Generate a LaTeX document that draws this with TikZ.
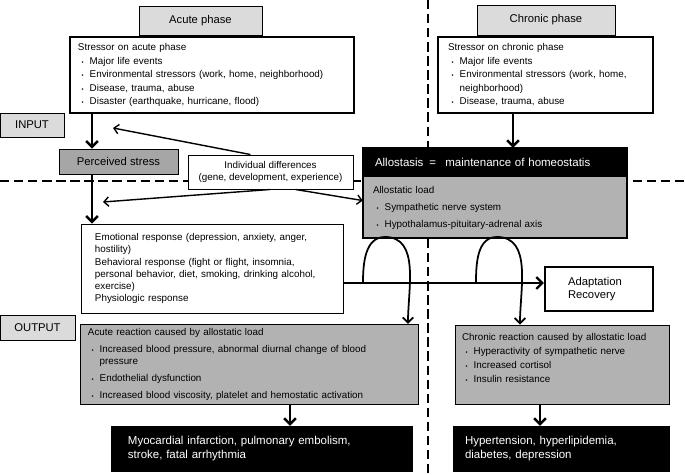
\documentclass[tikz,border=0pt]{standalone}
\usepackage{fontspec}
\setmainfont{Liberation Sans}
\usetikzlibrary{arrows.meta}

\definecolor{lgray}{gray}{0.86}
\definecolor{mgray}{gray}{0.70}
\definecolor{dgray}{gray}{0.65}

\newlength{\itmgap}
\newcommand{\itm}[1]{\par\vspace{\itmgap}\noindent\hangindent=10pt\hangafter=1\hspace*{3pt}\makebox[7pt][l]{\tiny\textbullet}#1}
\newcommand{\bodyfont}{\fontsize{8.4}{11.5}\selectfont}
\newcommand{\headfont}{\fontsize{9.6}{11.5}\selectfont}

\tikzset{
  tagbox/.style={draw, line width=0.8pt, fill=lgray, font=\headfont, inner sep=0pt},
  stressbox/.style={draw, line width=2pt, fill=white, font=\bodyfont, align=left},
  textbox/.style={draw, line width=0.8pt, fill=white, font=\bodyfont},
  reactbox/.style={draw, line width=0.8pt, fill=mgray, font=\bodyfont, align=left},
  blackbox/.style={fill=black, text=white, font=\headfont, align=left},
  bigarrow/.style={line width=2pt, -{Straight Barb[length=5pt,width=10pt]}},
  thinarrow/.style={line width=1.2pt, -{Straight Barb[length=4pt,width=8pt]}},
  archarrow/.style={line width=1.5pt, -{Straight Barb[length=4.5pt,width=9pt]}},
  divline/.style={line width=2.4pt, dash pattern=on 8pt off 4pt}
}

\begin{document}
\begin{tikzpicture}[x=0.3mm, y=-0.3mm]
    \useasboundingbox (0,0) rectangle (685,475);

    % dividing lines
    \draw [divline] (0,181) -- (685,181);
    \draw [divline] (428,0) -- (428,475);

    % input side
    \node [tagbox, minimum width=36.9mm, minimum height=8.7mm] (acute) at (200.5,20.5) {Acute phase};
    \node [tagbox, minimum width=41.4mm, minimum height=9mm] (chronic) at (546,20) {Chronic phase};
    \node [stressbox, text width=80.4mm, inner xsep=2.4mm, minimum height=22.8mm] (astress) at (212,75)
        {\noindent Stressor on acute phase
         \itm{Major life events}
         \itm{Environmental stressors (work, home, neighborhood)}
         \itm{Disease, trauma, abuse}
         \itm{Disaster (earthquake, hurricane, flood)}};
    \node [stressbox, text width=58.5mm, inner xsep=3mm, minimum height=22.8mm] (cstress) at (545.5,75)
        {\noindent Stressor on chronic phase
         \itm{Major life events}
         \itm{Environmental stressors (work, home,\newline neighborhood)}
         \itm{Disease, trauma, abuse}};
    \node [tagbox, minimum width=19.2mm, minimum height=7.2mm] (input) at (32,125) {INPUT};
    \node [tagbox, fill=dgray, minimum width=35.7mm, minimum height=7.5mm] (perc) at (118.5,161.5) {Perceived stress};
    \node [textbox, align=center, minimum width=49.5mm, minimum height=10.2mm, inner sep=0pt,
        font={\fontsize{8.4}{10.2}\selectfont}] (indiv) at (270.5,172)
        {Individual differences\\(gene, development, experience)};

    % allostasis
    \node [blackbox, text width=72mm, inner xsep=3.6mm, minimum height=8.7mm, font={\fontsize{9.8}{11.5}\selectfont}] (allo) at (495,162.5)
        {Allostasis\hspace{5pt}=\hspace{8pt}maintenance of homeostatis};
    \node [fill=mgray, font=\bodyfont, align=left, text width=73.2mm, inner xsep=3mm, minimum height=18.3mm] (load) at (495,207.5)
        {\setlength{\itmgap}{3pt}\noindent Allostatic load
         \itm{Sympathetic nerve system}
         \itm{Hypothalamus-pituitary-adrenal axis}};
    \draw [line width=2pt] (allo.north west) rectangle (load.south east);

    % responses
    \node [textbox, align=left, text width=70.2mm, inner xsep=4.2mm, minimum height=26.7mm,
        font={\fontsize{8.4}{10.3}\selectfont}] (emo) at (212,268.5)
        {Emotional response (depression, anxiety, anger,\\hostility)\\Behavioral response (fight or flight, insomnia,\\personal behavior, diet, smoking, drinking alcohol,\\exercise)\\Physiologic response};
    \node [draw, line width=2pt, align=left, text width=18.6mm, inner xsep=6.9mm, minimum height=13.2mm,
        font={\fontsize{9.6}{10.8}\selectfont}] (adapt) at (599,289) {Adaptation\\Recovery};

    % output side
    \node [tagbox, minimum width=22.5mm, minimum height=7.5mm] (output) at (37.5,327.5) {OUTPUT};
    \node [reactbox, text width=96.6mm, inner xsep=2.4mm, minimum height=23.1mm,
        font={\fontsize{8.4}{10.5}\selectfont}] (acreact) at (249,364.5)
        {\setlength{\itmgap}{4pt}\noindent Acute reaction caused by allostatic load
         \itm{Increased blood pressure, abnormal diurnal change of blood\newline pressure}
         \itm{Endothelial dysfunction}
         \itm{Increased blood viscosity, platelet and hemostatic activation}};
    \node [reactbox, text width=60mm, inner xsep=2.1mm, minimum height=23.7mm,
        font={\fontsize{8.4}{12}\selectfont}] (chreact) at (562,364.5)
        {\noindent Chronic reaction caused by allostatic load
         \itm{Hyperactivity of sympathetic nerve}
         \itm{Increased cortisol}
         \itm{Insulin resistance\rule[-11pt]{0pt}{11pt}}};
    \node [blackbox, text width=80.4mm, inner xsep=5.1mm, minimum height=13.8mm,
        font={\fontsize{9.8}{12}\selectfont}] (myo) at (262,449)
        {Myocardial infarction, pulmonary embolism,\\stroke, fatal arrhythmia};
    \node [blackbox, text width=57.9mm, inner xsep=3.6mm, minimum height=13.8mm,
        font={\fontsize{9.8}{12}\selectfont}] (hyper) at (561.5,449)
        {Hypertension, hyperlipidemia,\\diabetes, depression};

    % connectors
    \coordinate (xin) at (92,0);
    \coordinate (ihit) at (113,128);
    \coordinate (ehit) at (103,202);
    \coordinate (xch) at (513,0);
    \coordinate (ymid) at (0,283);
    \coordinate (archA) at (363,283);
    \coordinate (archB) at (476,283);
    \coordinate (xa) at (408,0);
    \coordinate (xb) at (520,0);
    \coordinate (xam) at (290,0);
    \coordinate (xhy) at (540,0);
    \draw [bigarrow] (xin |- astress.south) -- (xin |- perc.north);
    \draw [bigarrow] (xin |- perc.south) -- (xin |- emo.north);
    \draw [thinarrow] (indiv.139) -- (ihit);
    \draw [thinarrow] (indiv.south) -- (ehit);
    \draw [thinarrow] (indiv.-35) -- (load.177);
    \draw [bigarrow] (xch |- cstress.south) -- (xch |- allo.north);
    \draw [bigarrow] (emo.east |- ymid) -- (adapt.west |- ymid);
    \draw [archarrow] (archA) to[out=90,in=180] (385,237) to[out=0,in=90] (xa |- acreact.north);
    \draw [archarrow] (archB) to[out=90,in=180] (497,237) to[out=0,in=90] (xb |- chreact.north);
    \draw [bigarrow] (xam |- acreact.south) -- (xam |- myo.north);
    \draw [bigarrow] (xhy |- chreact.south) -- (xhy |- hyper.north);
\end{tikzpicture}
\end{document}
